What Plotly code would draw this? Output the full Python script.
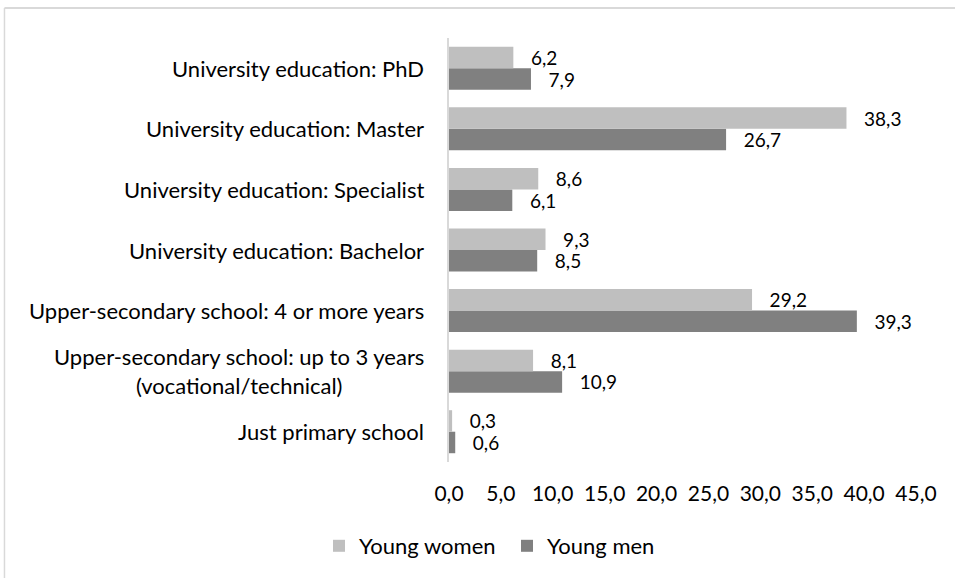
import plotly.graph_objects as go

categories = [
    "Just primary school",
    "Upper-secondary school: up to 3 years<br>(vocational/technical)",
    "Upper-secondary school: 4 or more years",
    "University education: Bachelor",
    "University education: Specialist",
    "University education: Master",
    "University education: PhD",
]
young_women = [0.3, 8.1, 29.2, 9.3, 8.6, 38.3, 6.2]
young_men = [0.6, 10.9, 39.3, 8.5, 6.1, 26.7, 7.9]
x_ticks = [0, 5, 10, 15, 20, 25, 30, 35, 40, 45]

FONT = "Lato, Carlito, Calibri, sans-serif"
FS = 21
FS_CAT = 22
FS_VAL = 19
NB = "\u00a0\u00a0\u00a0"

fig = go.Figure()
fig.add_trace(go.Bar(
    y=categories, x=young_men, orientation="h", name="Young men",
    marker=dict(color="#808080", line=dict(width=0)),
    text=[NB + f"{v:.1f}".replace(".", ",") for v in young_men],
    textposition="outside", cliponaxis=False, constraintext="none",
    textfont=dict(family=FONT, size=FS_VAL, color="#000000"),
    legendrank=2,
))
fig.add_trace(go.Bar(
    y=categories, x=young_women, orientation="h", name="Young women",
    marker=dict(color="#BFBFBF", line=dict(width=0)),
    text=[NB + f"{v:.1f}".replace(".", ",") for v in young_women],
    textposition="outside", cliponaxis=False, constraintext="none",
    textfont=dict(family=FONT, size=FS_VAL, color="#000000"),
    legendrank=1,
))

for c in categories:
    fig.add_annotation(
        x=0, xref="paper", y=c, yref="y", text=c, showarrow=False,
        xanchor="right", yanchor="middle", align="center", xshift=-23,
        font=dict(family=FONT, size=FS_CAT, color="#000000"),
    )

L, T, B, R = 449, 38, 116, 38.5
W, H = 955, 578
pw, ph = W - L - R, H - T - B
# chart border (top and left)
fig.add_shape(type="line", xref="paper", yref="paper",
              x0=(4 - L) / pw, x1=(W + 5 - L) / pw,
              y0=(H - B - 8) / ph, y1=(H - B - 8) / ph,
              line=dict(color="#D9D9D9", width=2))
fig.add_shape(type="line", xref="paper", yref="paper",
              x0=(4 - L) / pw, x1=(4 - L) / pw,
              y0=(H - B - 8) / ph, y1=-(B + 5) / ph,
              line=dict(color="#D9D9D9", width=1.5))

fig.update_layout(
    width=W, height=H,
    margin=dict(l=L, r=R, t=T, b=B, pad=0),
    paper_bgcolor="white", plot_bgcolor="white",
    barmode="group", bargap=0.29, bargroupgap=0,
    separators=",.",
    font=dict(family=FONT, size=FS, color="#000000"),
    showlegend=True,
    legend=dict(orientation="h", xref="container", yref="container",
                x=319 / W, y=1 - 546 / H, xanchor="left", yanchor="middle",
                font=dict(family=FONT, size=FS_CAT, color="#000000"),
                itemwidth=30, entrywidth=143, entrywidthmode="pixels"),
    xaxis=dict(range=[0, 45], tickvals=x_ticks,
               ticktext=[f"{v:.1f}".replace(".", ",") for v in x_ticks],
               showgrid=False, zeroline=False, showline=False, ticks="",
               ticklabelstandoff=17,
               tickfont=dict(family=FONT, size=FS, color="#000000")),
    yaxis=dict(type="category", categoryorder="array", categoryarray=categories,
               range=[-0.5, 6.5], showgrid=False, zeroline=False,
               showline=True, linecolor="#D9D9D9", linewidth=2,
               showticklabels=False, ticks=""),
)

fig.write_html("out.html")
